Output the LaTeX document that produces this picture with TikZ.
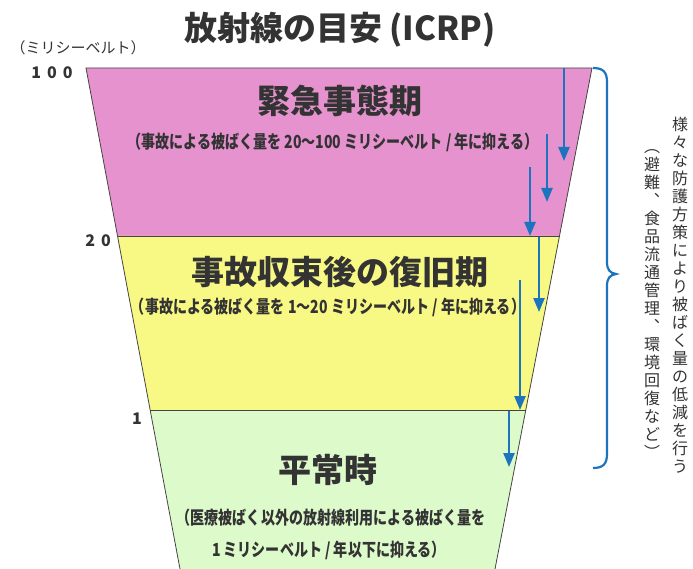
\documentclass[tikz,border=0pt]{standalone}
\usepackage{fontspec}
\usetikzlibrary{arrows.meta}
\newfontfamily\jp{Noto Sans CJK JP}
\newfontfamily\jpc{Noto Sans CJK JP}[FakeStretch=0.78]
\definecolor{txt}{HTML}{333333}
\definecolor{pinkz}{HTML}{E592CF}
\definecolor{yellz}{HTML}{F8F884}
\definecolor{greenz}{HTML}{DDFACB}
\definecolor{bluez}{HTML}{1C73BE}
\definecolor{edgez}{HTML}{444444}
\begin{document}
\begin{tikzpicture}[x=1pt,y=-1pt,
  bigtxt/.style={font=\jp\bfseries\fontsize{33}{36}\selectfont, text=txt, inner sep=0pt},
  subtxt/.style={font=\jpc\bfseries\fontsize{18}{22}\selectfont, text=txt, inner sep=0pt},
  axislbl/.style={font=\jp\bfseries\fontsize{16}{18}\selectfont, text=txt, inner sep=0pt},
  unitlbl/.style={font=\jp\fontsize{15}{17}\selectfont, text=txt, inner sep=0pt},
  vtxt/.style={font=\jp\fontsize{16}{18}\selectfont, text=txt, inner sep=0pt, align=center},
  zone/.style={draw=edgez, line width=0.8pt},
  downarr/.style={draw=bluez, line width=2.4pt, -{Triangle[length=14pt,width=11pt]}},
  bracez/.style={draw=bluez, line width=2.2pt}
]
\useasboundingbox (0,0) rectangle (693,569);
% zone corners
\coordinate (tl) at (86,68);
\coordinate (tr) at (592,68);
\coordinate (ml) at (117.5,236);
\coordinate (mr) at (559.5,236);
\coordinate (ll) at (150.2,410);
\coordinate (lr) at (526,410);
\coordinate (bl) at (180,569);
\coordinate (br) at (495,569);
\fill[pinkz] (tl) -- (tr) -- (mr) -- (ml) -- cycle;
\fill[yellz] (ml) -- (mr) -- (lr) -- (ll) -- cycle;
\fill[greenz] (ll) -- (lr) -- (br) -- (bl) -- cycle;
\draw[zone] (bl) -- (tl) -- (tr) -- (br);
\draw[zone] (ml) -- (mr);
\draw[zone] (ll) -- (lr);

% title and scale
\node[bigtxt] (title) at (340,30) {放射線の目安 (ICRP)};
\node[unitlbl] (unit) at (78,48) {（ミリシーベルト）};
\node[axislbl] (v100) at (52,73) {1\hspace{6pt}0\hspace{6pt}0};
\node[axislbl] (v20) at (98,241) {2\hspace{6pt}0};
\node[axislbl] (v1) at (137,419) {1};

% zone texts
\node[bigtxt] (h1) at (340,101) {緊急事態期};
\node[subtxt] (s1) at (333,142) {（事故による被ばく量を 20～100 ミリシーベルト / 年に抑える）};
\node[bigtxt] (h2) at (340,272) {事故収束後の復旧期};
\node[subtxt] (s2) at (328,307) {（事故による被ばく量を 1～20 ミリシーベルト / 年に抑える）};
\node[bigtxt] (h3) at (328,470) {平常時};
\node[subtxt] (s3a) at (331,518) {（医療被ばく以外の放射線利用による被ばく量を};
\node[subtxt] (s3b) at (329,550) {1 ミリシーベルト / 年以下に抑える）};

% arrows
\coordinate (a1s) at (564,68);  \coordinate (a1e) at (564,161);
\coordinate (a2s) at (547,134); \coordinate (a2e) at (547,202);
\coordinate (a3s) at (530,167); \coordinate (a3e) at (530,236);
\coordinate (a4s) at (539,237); \coordinate (a4e) at (539,312);
\coordinate (a5s) at (520,280); \coordinate (a5e) at (520,410);
\coordinate (a6s) at (509,411); \coordinate (a6e) at (509,467);
\draw[downarr] (a1s) -- (a1e);
\draw[downarr] (a2s) -- (a2e);
\draw[downarr] (a3s) -- (a3e);
\draw[downarr] (a4s) -- (a4e);
\draw[downarr] (a5s) -- (a5e);
\draw[downarr] (a6s) -- (a6e);

% brace
\coordinate (bt) at (593,68);
\coordinate (bb) at (593,468);
\coordinate (btip) at (616,274);
\draw[bracez] (bt) .. controls (603,68) and (607,72) .. (607,82)
  -- (607,262) .. controls (607,270) and (610,273) .. (btip)
  .. controls (610,275) and (607,278) .. (607,286)
  -- (607,454) .. controls (607,464) and (603,468) .. (bb);

% vertical texts
\node[vtxt, anchor=north] (vr) at (680,117) {様\\々\\な\\防\\護\\方\\策\\に\\よ\\り\\被\\ば\\く\\量\\の\\低\\減\\を\\行\\う};
\node[vtxt, anchor=north] (vl) at (652,149) {︵\\避\\難\\︑\\食\\品\\流\\通\\管\\理\\︑\\環\\境\\回\\復\\な\\ど\\︶};
\end{tikzpicture}
\end{document}
